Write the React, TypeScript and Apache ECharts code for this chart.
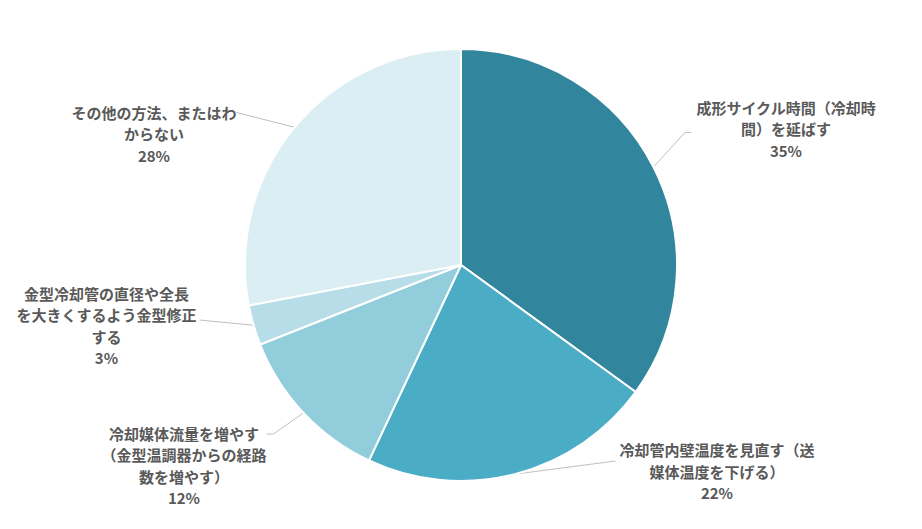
import { useEffect, useRef } from "react";
import * as echarts from "echarts";

// wrapped exactly as the chart shows them
const categories = [
  "成形サイクル時間（冷却時\n間）を延ばす",
  "冷却管内壁温度を見直す（送\n媒体温度を下げる）",
  "冷却媒体流量を増やす\n（金型温調器からの経路\n数を増やす）",
  "金型冷却管の直径や全長\nを大きくするよう金型修正\nする",
  "その他の方法、またはわ\nからない",
];
const values = [35, 22, 12, 3, 28];

const sliceColors = ["#31859c", "#4bacc6", "#92cddc", "#b7dee8", "#daeef3"];

// label block centres (px) and how the leader meets each block
const labelCentres: [number, number][] = [
  [786, 128.5],
  [717, 471],
  [184, 465.5],
  [106.5, 325.5],
  [154, 133.5],
];
const leaders = [
  { side: 1, gap: 5, dy: 4, bend: 6 },
  { side: 1, gap: 4, dy: -10, bend: 0 },
  { side: -1, gap: 0, dy: -31.5, bend: 7 },
  { side: -1, gap: 3, dy: -5.5, bend: 0 },
  { side: -1, gap: 0, dy: -21, bend: 0 },
];

const textColor = "#595959";
const font = "'Noto Sans CJK JP', 'Noto Sans', sans-serif";

export default function App() {
  const reference = useRef<HTMLDivElement>(null);

  useEffect(() => {
    const element = reference.current;
    if (element === null) return;
    const chart = echarts.init(element, undefined, { renderer: "svg" });
    chart.setOption({
      animation: false,
      series: [
        {
          type: "pie",
          center: [461, 265],
          radius: 216,
          startAngle: 90,
          clockwise: true,
          avoidLabelOverlap: false,
          silent: true,
          itemStyle: { borderColor: "#ffffff", borderWidth: 2 },
          label: {
            show: true,
            position: "outside",
            color: textColor,
            formatter: (p: { name: string; value: number }) =>
              [...p.name.split("\n"), `${p.value}%`]
                .map((line) => `{c|${line}}`)
                .join("\n"),
            rich: {
              c: {
                align: "center",
                color: textColor,
                fontFamily: font,
                fontSize: 15,
                fontWeight: "bold",
                lineHeight: 21.5,
              },
            },
          },
          labelLine: {
            show: true,
            length: 10,
            length2: 10,
            lineStyle: { color: "#bfbfbf", width: 1 },
          },
          labelLayout: (params: {
            dataIndex: number;
            labelRect: { width: number; height: number };
            labelLinePoints?: number[][];
          }) => {
            const [cx, cy] = labelCentres[params.dataIndex];
            const { side, gap, dy, bend } = leaders[params.dataIndex];
            const half = params.labelRect.width / 2;
            const endX = side === 1 ? cx - half - gap : cx + half + gap;
            const endY = cy + dy;
            const start = params.labelLinePoints
              ? params.labelLinePoints[0]
              : [endX, endY];
            return {
              x: cx,
              y: cy,
              align: "center",
              verticalAlign: "middle",
              labelLinePoints: [
                start,
                [endX - side * bend, endY],
                [endX, endY],
              ],
            };
          },
          data: categories.map((name, index) => ({
            name,
            value: values[index],
            itemStyle: { color: sliceColors[index] },
          })),
        },
      ],
    });
    return () => chart.dispose();
  }, []);

  return (
    <div
      ref={reference}
      style={{ position: "absolute", left: 0, top: 0, width: 922, height: 529 }}
    />
  );
}
